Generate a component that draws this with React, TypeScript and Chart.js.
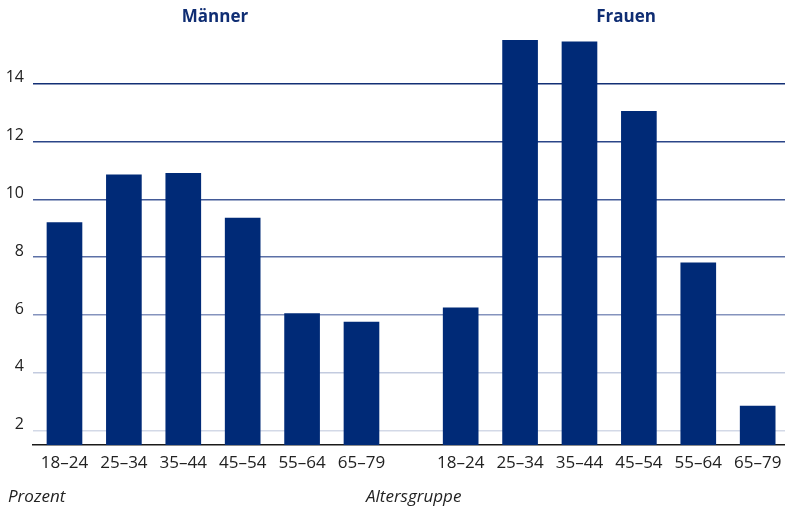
import React, { useEffect, useRef } from "react";
import { Chart, registerables } from "chart.js";

Chart.register(...registerables);

// ---- data ----
const ageGroups = ["18–24", "25–34", "35–44", "45–54", "55–64", "65–79"];
const menValues = [9.2, 10.85, 10.9, 9.35, 6.05, 5.75];
const womenValues = [6.25, 15.5, 15.45, 13.05, 7.8, 2.85];
const groupTitles = ["Männer", "Frauen"];
const yTicks = [2, 4, 6, 8, 10, 12, 14];
const gridColors: Record<number, string> = {
  2: "#d3d9e7",
  4: "#c3cbdf",
  6: "#8593bd",
  8: "#5c70a6",
  10: "#435a97",
  12: "#2b4588",
  14: "#132f75",
};
const groupGap = 0.67; // extra spacing between the two groups (in category units)
const yAxisTitle = "Prozent";
const xAxisTitle = "Altersgruppe";

const BAR_COLOR = "#002a77";
const TITLE_COLOR = "#0f2d73";
const TEXT_COLOR = "#222222";

export default function App() {
  const ref = useRef<HTMLCanvasElement | null>(null);

  useEffect(() => {
    if (!ref.current) return;
    const womenStart = menValues.length + groupGap;
    const points = [
      ...menValues.map((v, i) => ({ x: i, y: v })),
      ...womenValues.map((v, i) => ({ x: womenStart + i, y: v })),
    ];
    const tickPositions = points.map((p) => p.x);
    const tickLabels = [...ageGroups, ...ageGroups];

    const textPlugin = {
      id: "extraTexts",
      afterDraw(chart: any) {
        const ctx = chart.ctx;
        ctx.save();
        ctx.fillStyle = TITLE_COLOR;
        ctx.font = "bold 17px 'Open Sans'";
        ctx.textAlign = "center";
        ctx.textBaseline = "middle";
        ctx.fillText(groupTitles[0], 215, 17);
        ctx.fillText(groupTitles[1], 626, 17);
        ctx.fillStyle = TEXT_COLOR;
        ctx.font = "italic 17px 'Open Sans'";
        ctx.textAlign = "left";
        ctx.fillText(yAxisTitle, 8, 497);
        ctx.fillText(xAxisTitle, 366, 497);
        ctx.restore();
      },
    };

    const chart = new Chart(ref.current, {
      type: "bar",
      data: {
        datasets: [
          {
            data: points,
            backgroundColor: BAR_COLOR,
            barThickness: 35,
            borderWidth: 0,
          },
        ],
      },
      options: {
        animation: false,
        responsive: false,
        devicePixelRatio: 1,
        layout: { padding: { top: 26, left: 0, right: 0, bottom: 0 } },
        plugins: {
          legend: { display: false },
          tooltip: { enabled: false },
          title: { display: false },
        },
        scales: {
          x: {
            type: "linear",
            offset: false,
            min: -0.53,
            max: womenStart + womenValues.length - 1 + 0.46,
            afterBuildTicks: (scale: any) => {
              scale.ticks = tickPositions.map((v) => ({ value: v }));
            },
            afterFit: (scale: any) => {
              scale.height = 68;
              scale.paddingLeft = 0;
              scale.paddingRight = 0;
            },
            grid: { display: false, drawTicks: false },
            border: { display: true, color: "#1a1a1a", width: 1.5 },
            ticks: {
              autoSkip: false,
              maxRotation: 0,
              padding: 8,
              color: TEXT_COLOR,
              font: { family: "'Open Sans'", size: 17 },
              callback: (_v: any, i: number) => tickLabels[i],
            },
          },
          y: {
            type: "linear",
            min: 1.5,
            max: 16,
            afterBuildTicks: (scale: any) => {
              scale.ticks = yTicks.map((v) => ({ value: v }));
            },
            afterFit: (scale: any) => {
              scale.width = 33;
            },
            border: { display: false },
            grid: {
              drawTicks: false,
              lineWidth: 1.5,
              color: (ctx: any) => gridColors[ctx.tick?.value] || "#cccccc",
            },
            ticks: {
              padding: 9,
              labelOffset: -6,
              color: TEXT_COLOR,
              font: { family: "'Open Sans'", size: 16 },
              callback: (v: any) => String(v),
            },
          },
        },
      },
      plugins: [textPlugin],
    });
    return () => chart.destroy();
  }, []);

  return (
    <div style={{ position: "absolute", left: 0, top: 0, width: 785, height: 513, background: "#fff" }}>
      <canvas ref={ref} width={785} height={513} />
    </div>
  );
}
